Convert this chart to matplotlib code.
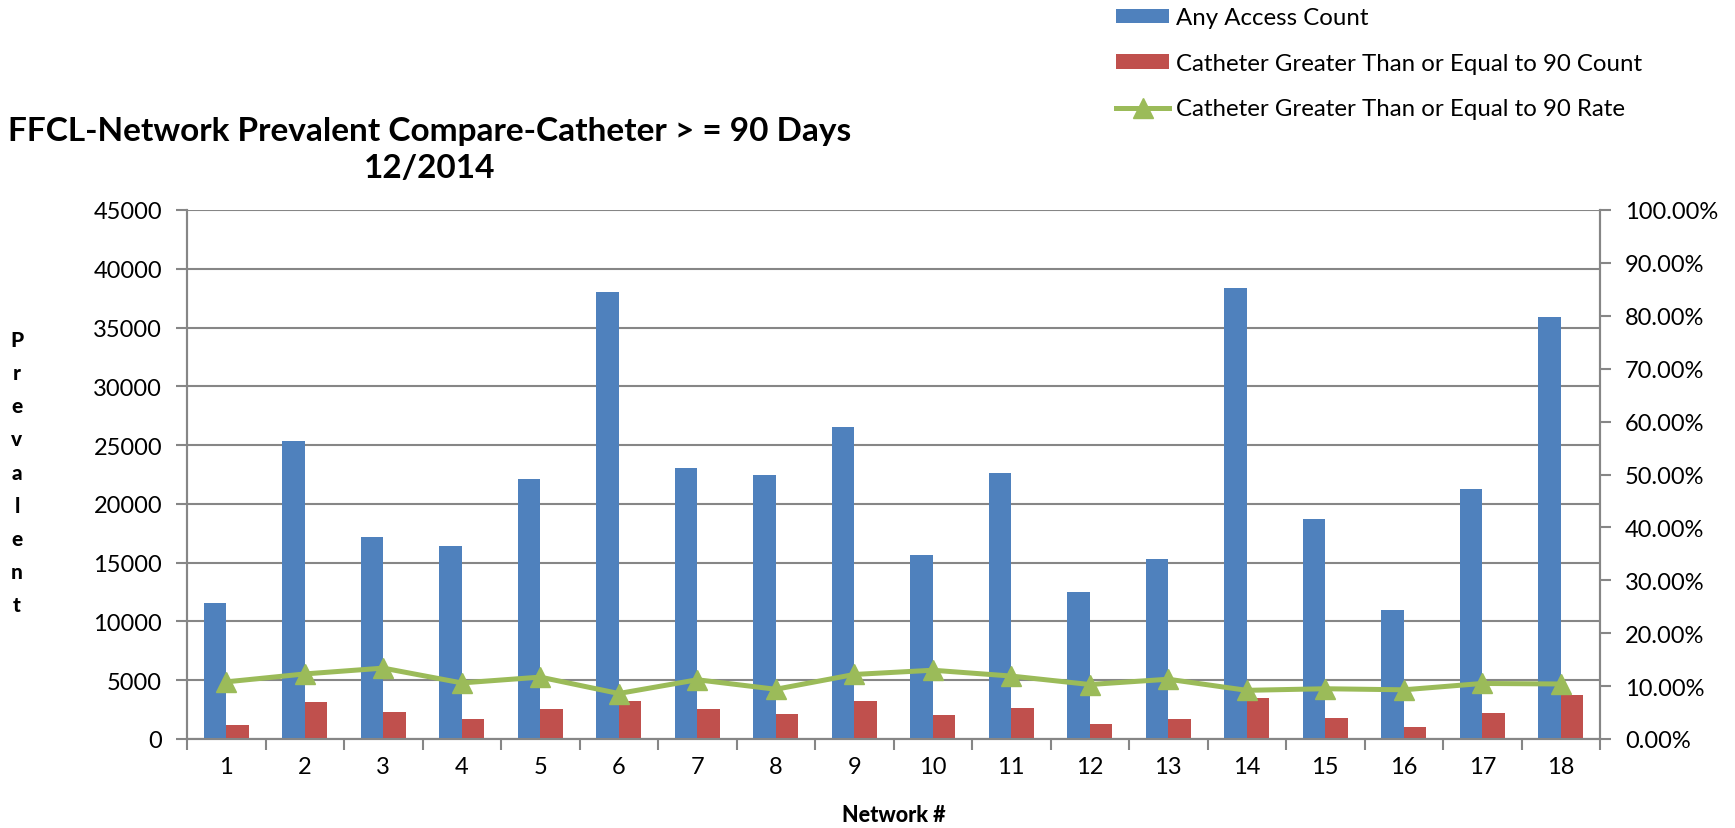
import matplotlib
matplotlib.use("Agg")
import matplotlib.pyplot as plt
from matplotlib.lines import Line2D
from matplotlib.patches import Patch
from matplotlib.ticker import FixedLocator, FuncFormatter

plt.rcParams['font.family'] = ['Lato', 'DejaVu Sans']

# Network prevalent counts, December 2014
networks = [str(i) for i in range(1, 19)]
any_access = [11570, 25330, 17190, 16400, 22100, 37990, 23040, 22470, 26520,
              15660, 22610, 12510, 15290, 38350, 18720, 10980, 21280, 35940]
catheter_count = [1220, 3120, 2300, 1730, 2580, 3230, 2580, 2100, 3210,
                  2040, 2670, 1250, 1700, 3490, 1760, 990, 2240, 3720]
catheter_rate = [10.8, 12.3, 13.4, 10.6, 11.7, 8.6, 11.2, 9.4, 12.2,
                 13.0, 11.9, 10.3, 11.3, 9.2, 9.5, 9.3, 10.5, 10.4]

left_ticks = list(range(0, 45001, 5000))
right_ticks = list(range(0, 101, 10))

BLUE = '#4F81BD'
RED = '#C0504D'
GREEN = '#9BBB59'
GRID = '#868686'
TICK_FS = 17

fig = plt.figure(figsize=(17.35, 8.29), dpi=100)
ax = fig.add_axes([187 / 1735, 1 - 740 / 829, 1413 / 1735, 529 / 829])

x = list(range(len(networks)))
width = 1 / 3.5
ax.bar([i - width / 2 for i in x], any_access, width=width, color=BLUE,
       zorder=3, label='Any Access Count')
ax.bar([i + width / 2 for i in x], catheter_count, width=width, color=RED,
       zorder=3, label='Catheter Greater Than or Equal to 90 Count')

ax.set_xlim(-0.5, len(networks) - 0.5)
ax.set_ylim(0, 45000)
ax.yaxis.set_major_locator(FixedLocator(left_ticks))
ax.set_xticks(x)
ax.set_xticklabels(networks)
ax.xaxis.set_minor_locator(FixedLocator([i - 0.5 for i in range(len(networks) + 1)]))
ax.tick_params(axis='x', which='major', length=0, pad=12, labelsize=TICK_FS)
ax.tick_params(axis='x', which='minor', length=8, width=1.5, color=GRID)
ax.tick_params(axis='y', length=8, width=1.5, color=GRID, pad=10, labelsize=TICK_FS)

ax.grid(axis='y', color=GRID, linewidth=1.5, zorder=0)
for s in ['left', 'bottom', 'right']:
    ax.spines[s].set_color(GRID)
    ax.spines[s].set_linewidth(1.5)
ax.spines['top'].set_visible(False)
ax.set_axisbelow(True)

ax2 = ax.twinx()
ax2.plot(x, catheter_rate, color=GREEN, linewidth=3.6, marker='^',
         markersize=14, zorder=5)
ax2.set_ylim(0, 100)
ax2.yaxis.set_major_locator(FixedLocator(right_ticks))
ax2.yaxis.set_major_formatter(FuncFormatter(lambda v, p: f'{v:.2f}%'))
ax2.tick_params(axis='y', length=8, width=1.5, color=GRID, pad=10, labelsize=TICK_FS)
for s in ['left', 'bottom', 'right']:
    ax2.spines[s].set_color(GRID)
    ax2.spines[s].set_linewidth(1.5)
ax2.spines['top'].set_visible(False)

ax.set_xlabel('Network #', fontsize=15.5, fontweight='black', labelpad=20)

fig.text(17 / 1735, 1 - 473 / 829, '\n'.join('Prevalent'), ha='center',
         va='center', fontsize=15, fontweight='black', linespacing=1.88)

fig.text(430 / 1735, 1 - 150 / 829,
         'FFCL-Network Prevalent Compare-Catheter > = 90 Days\n12/2014',
         ha='center', va='center', fontsize=24, fontweight='bold',
         linespacing=1.3)

handles = [
    Patch(facecolor=BLUE, label='Any Access Count'),
    Patch(facecolor=RED, label='Catheter Greater Than or Equal to 90 Count'),
    Line2D([0], [0], color=GREEN, linewidth=3.6, marker='^', markersize=14,
           label='Catheter Greater Than or Equal to 90 Rate'),
]
fig.legend(handles=handles, loc='upper left',
           bbox_to_anchor=(1102 / 1735, 1 + 6 / 829), frameon=False,
           fontsize=17.3, handlelength=2.2, handleheight=0.55,
           handletextpad=0.3, labelspacing=1.02, borderaxespad=0.2)

fig.savefig('out.png', dpi=100)
